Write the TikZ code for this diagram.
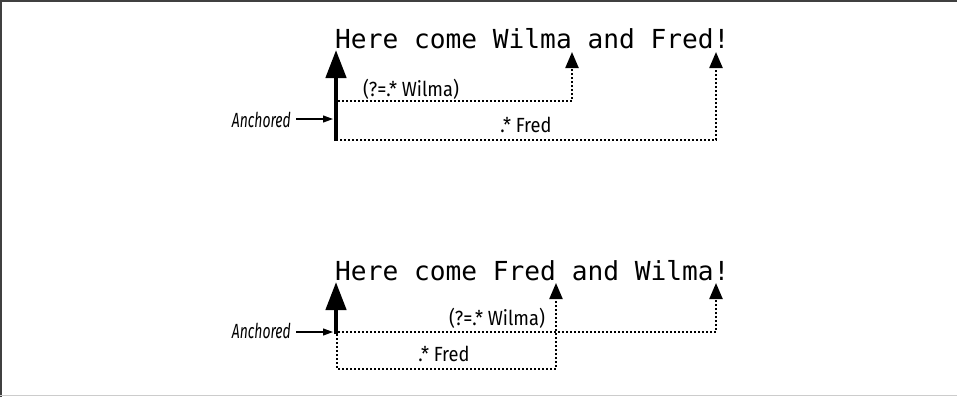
\documentclass[tikz,border=0pt]{standalone}
\usepackage{fontspec}
\setmonofont{DejaVu Sans Mono}
\newfontfamily\lblfont[FakeStretch=0.89]{Fira Sans}
\newfontfamily\anchfont[FakeStretch=0.68]{Fira Sans}
\usetikzlibrary{arrows.meta}

\begin{document}
\begin{tikzpicture}[x=1pt,y=-1pt,
	linetext/.style={font=\ttfamily\fontsize{26.2}{30}\selectfont,inner sep=0pt,anchor=base west},
	tag/.style={font=\lblfont\fontsize{20.5}{22}\selectfont,inner sep=0pt},
	anchortag/.style={font=\anchfont\itshape\fontsize{20.5}{22}\selectfont,inner sep=0pt,anchor=east},
	bigarrow/.style={line width=4.5pt,-{Triangle[width=20pt,length=28pt]}},
	dotarrow/.style={line width=2.2pt,dash pattern=on 2pt off 2pt,-{Triangle[width=13pt,length=16pt]}},
	pointer/.style={line width=1.1pt,-{Triangle[width=7pt,length=10pt]}}]
	\useasboundingbox (0,0) rectangle (957,397);
	% frame
	\draw[black!75,line width=1.5pt] (1,397)--(1,1.2)--(957,1.2);
	\draw[black!20,line width=1.2pt] (0,395.5)--(957,395.5);

	% first string
	\node[linetext] (s1) at (335,48) {Here come Wilma and Fred!};
	\coordinate (a1) at (336,141);
	\coordinate (h1) at (336,50);
	\coordinate (w1) at (572,52);
	\coordinate (f1) at (716,52);
	\draw[dotarrow] (338,101) -| (w1);
	\draw[dotarrow] (336,140) -| (f1);
	\draw[bigarrow] (a1)--(h1);
	\node[tag] (lw1) at (411,89) {(?=.* Wilma)};
	\node[tag] (lf1) at (526,125) {.* Fred};
	\node[anchortag] (an1) at (291,120) {Anchored};
	\draw[pointer] (an1.east)++(5,-1)--(333,119);

	% second string
	\node[linetext] (s2) at (335,280) {Here come Fred and Wilma!};
	\coordinate (a2) at (336,334);
	\coordinate (h2) at (336,282);
	\coordinate (w2) at (716,283);
	\coordinate (f2) at (556,283);
	\draw[dotarrow] (338,332) -| (w2);
	\draw[dotarrow] (337,334) -- (337,369) -| (f2);
	\draw[bigarrow] (a2)--(h2);
	\node[tag] (lw2) at (497,318) {(?=.* Wilma)};
	\node[tag] (lf2) at (444,354) {.* Fred};
	\node[anchortag] (an2) at (291,331) {Anchored};
	\draw[pointer] (an2.east)++(5,1)--(333,332);
\end{tikzpicture}
\end{document}
